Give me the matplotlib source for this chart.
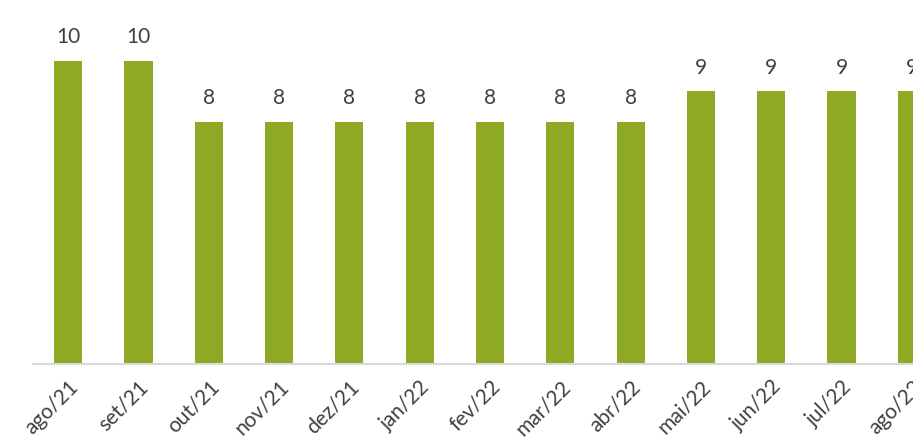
import matplotlib
matplotlib.use("Agg")
import matplotlib.pyplot as plt

categories = ["ago/21", "set/21", "out/21", "nov/21", "dez/21", "jan/22", "fev/22",
              "mar/22", "abr/22", "mai/22", "jun/22", "jul/22", "ago/22"]
values = [10, 10, 8, 8, 8, 8, 8, 8, 8, 9, 9, 9, 9]

plt.rcParams['font.family'] = ['Lato', 'DejaVu Sans']

W, H = 913, 443
fig = plt.figure(figsize=(W / 100, H / 100), dpi=100)
ymax = 11.5
unit_px = 30.3
left_px, base_px, width_px = 33, 364, 914
height_px = ymax * unit_px
ax = fig.add_axes([left_px / W, (H - base_px) / H, width_px / W, height_px / H])

x = list(range(len(categories)))
ax.bar(x, values, width=0.4, color="#8EA924", zorder=2)
for xi, v in zip(x, values):
    ax.text(xi, v + 0.45, str(v), ha="center", va="bottom", fontsize=15,
            color="#404040", clip_on=False)

ax.set_xlim(-0.5, len(categories) - 0.5)
ax.set_ylim(0, ymax)
ax.set_yticks([])
ax.set_xticks(x)
ax.set_xticklabels(categories, rotation=45, ha="right", rotation_mode="anchor",
                   fontsize=15, color="#404040")
ax.tick_params(axis="x", length=0, pad=9)
for s in ["top", "right", "left"]:
    ax.spines[s].set_visible(False)
ax.spines["bottom"].set_color("#d9d9d9")
ax.spines["bottom"].set_linewidth(1.5)

fig.savefig("out.png", dpi=100)
